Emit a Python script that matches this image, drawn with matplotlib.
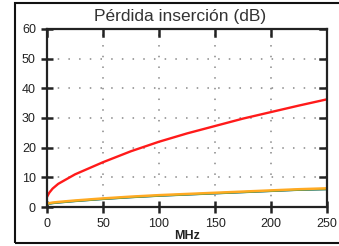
import matplotlib.pyplot as plt
import matplotlib.lines as mlines
from matplotlib.patches import Rectangle

plt.rcParams['font.family'] = ['Liberation Sans', 'DejaVu Sans']

# frequency (MHz) and insertion loss (dB)
freq = [0, 2, 5, 10, 25, 50, 75, 100, 125, 150, 175, 200, 225, 250]
loss_red = [3.4, 4.8, 6.2, 7.8, 11.0, 15.1, 18.8, 22.0, 24.8, 27.3, 29.8, 32.0, 34.2, 36.3]
loss_orange = [1.2, 1.3, 1.5, 1.7, 2.2, 2.9, 3.5, 4.0, 4.4, 4.8, 5.2, 5.6, 6.0, 6.3]
loss_green = [1.0, 1.1, 1.3, 1.5, 2.0, 2.7, 3.3, 3.8, 4.2, 4.6, 5.0, 5.4, 5.8, 6.0]
loss_blue = [0.9, 1.0, 1.2, 1.4, 1.9, 2.6, 3.2, 3.7, 4.1, 4.5, 4.9, 5.3, 5.7, 5.9]

xticks = [0, 50, 100, 150, 200, 250]
yticks = [0, 10, 20, 30, 40, 50, 60]

fig = plt.figure(figsize=(3.39, 2.46), dpi=100)
fig.patches.append(Rectangle((15 / 339, 3 / 246), 1.0, 240 / 246, transform=fig.transFigure,
                             fill=False, edgecolor='#111111', linewidth=1.5))

ax = fig.add_axes([47 / 339, 1 - 207 / 246, 280 / 339, 178 / 246])
ax.plot(freq, loss_blue, color='#3a3acc', linewidth=1.0)
ax.plot(freq, loss_green, color='#3a9a48', linewidth=1.6)
ax.plot(freq, loss_orange, color='#ffaa22', linewidth=1.8)
ax.plot(freq, loss_red, color='#ff1a1a', linewidth=1.7)

ax.set_xlim(0, 250)
ax.set_ylim(0, 60)
ax.set_xticks(xticks)
ax.set_yticks(yticks)
ax.grid(True, color='#888888', linestyle=(0, (1, 6)), linewidth=1.1)

for s in ax.spines.values():
    s.set_linewidth(1.6)
    s.set_color('#222222')

ax.tick_params(direction='inout', length=8, width=1.8, color='#222222',
               labelsize=9, labelcolor='#222222', pad=4)

# inward ticks on the top and right edges
for x in xticks:
    ax.axvline(x, ymin=1 - 7 / 178, ymax=1, color='#222222', linewidth=1.8)
for y in yticks:
    ax.axhline(y, xmin=1 - 7 / 280, xmax=1, color='#222222', linewidth=1.8)

ax.set_xlabel('MHz', fontsize=9, fontweight='bold', color='#222222', labelpad=0)
fig.text(180 / 339, 1 - 17 / 246, 'Pérdida inserción (dB)', fontsize=12.5,
         color='#333333', ha='center', va='center')

fig.savefig('out.png', dpi=100)
